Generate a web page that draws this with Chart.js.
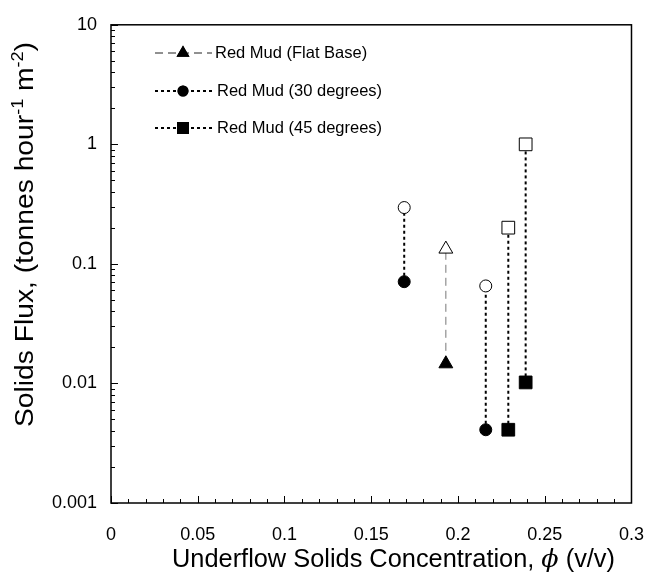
<!DOCTYPE html>
<html>
<head>
<meta charset="utf-8">
<script src="https://cdn.jsdelivr.net/npm/chart.js@4.4.1/dist/chart.umd.min.js"></script>
<style>
  body { margin: 0; background: #fff; }
</style>
</head>
<body>
<canvas id="graficoFlux" width="665" height="579"></canvas>
<script>
// data (underflow concentration vs solids flux)
const seriesNames = ['Red Mud (Flat Base)', 'Red Mud (30 degrees)', 'Red Mud (45 degrees)'];
const flatX = [0.193];
const flatLow = [0.0146];
const flatHigh = [0.133];
const deg30X = [0.169, 0.216];
const deg30Low = [0.071, 0.0041];
const deg30High = [0.296, 0.0654];
const deg45X = [0.229, 0.239];
const deg45Low = [0.0041, 0.0102];
const deg45High = [0.201, 1.0];
const xTicks = [0, 0.05, 0.1, 0.15, 0.2, 0.25, 0.3];
const yTicks = [0.001, 0.01, 0.1, 1, 10];

const FONT = '"Liberation Sans", Arial, sans-serif';

const styles = [
    { pointStyle: 'triangle', radius: 8, color: '#777', legendColor: '#222', width: 1, dash: [8, 5] },
    { pointStyle: 'circle', radius: 6, color: '#000', legendColor: '#000', width: 2, dash: [3, 3] },
    { pointStyle: 'rect', radius: 9, color: '#000', legendColor: '#000', width: 2, dash: [3, 3] }
];

function pairSets(xs, lows, highs, st, name) {
    return xs.map((x, i) => ({
        label: name,
        data: [{ x: x, y: lows[i] }, { x: x, y: highs[i] }],
        showLine: true,
        borderColor: st.color,
        borderWidth: st.width,
        borderDash: st.dash,
        pointStyle: st.pointStyle,
        pointRadius: st.radius,
        pointBorderColor: '#000',
        pointBorderWidth: 1,
        pointBackgroundColor: ['#000', '#fff']
    }));
}

const datasets = [].concat(
    pairSets(flatX, flatLow, flatHigh, styles[0], seriesNames[0]),
    pairSets(deg30X, deg30Low, deg30High, styles[1], seriesNames[1]),
    pairSets(deg45X, deg45Low, deg45High, styles[2], seriesNames[2])
);

// text runs drawn left to right; optional total width to fit
function drawRuns(ctx, runs, x, y, width) {
    let natural = 0;
    runs.forEach(r => { ctx.font = r.font; natural += ctx.measureText(r.text).width; });
    const k = width ? width / natural : 1;
    ctx.save();
    ctx.translate(x, y);
    ctx.scale(k, 1);
    let cx = 0;
    runs.forEach(r => {
        ctx.font = r.font;
        ctx.fillText(r.text, cx, r.dy || 0);
        cx += ctx.measureText(r.text).width;
    });
    ctx.restore();
}

// box, inward ticks, legend and axis titles
const decorPlugin = {
    id: 'decor',
    beforeDatasetsDraw(chart) {
        const ctx = chart.ctx;
        const a = chart.chartArea;
        const xs = chart.scales.x, ys = chart.scales.y;
        ctx.save();
        ctx.strokeStyle = '#000';
        ctx.lineWidth = 1.5;
        ctx.strokeRect(a.left, a.top, a.right - a.left, a.bottom - a.top);
        ctx.lineWidth = 1;
        ctx.beginPath();
        for (let i = 0; i < xTicks.length; i++) {
            const px = Math.round(xs.getPixelForValue(xTicks[i])) + 0.5;
            ctx.moveTo(px, a.bottom);
            ctx.lineTo(px, a.bottom - 7);
            if (i < xTicks.length - 1) {
                const step = (xTicks[i + 1] - xTicks[i]) / 5;
                for (let k = 1; k < 5; k++) {
                    const mx = Math.round(xs.getPixelForValue(xTicks[i] + step * k)) + 0.5;
                    ctx.moveTo(mx, a.bottom);
                    ctx.lineTo(mx, a.bottom - 4);
                }
            }
        }
        for (let i = 0; i < yTicks.length; i++) {
            const py = Math.round(ys.getPixelForValue(yTicks[i])) + 0.5;
            ctx.moveTo(a.left, py);
            ctx.lineTo(a.left + 7, py);
            if (i < yTicks.length - 1) {
                for (let k = 2; k < 10; k++) {
                    const my = Math.round(ys.getPixelForValue(yTicks[i] * k)) + 0.5;
                    ctx.moveTo(a.left, my);
                    ctx.lineTo(a.left + 4, my);
                }
            }
        }
        ctx.stroke();
        ctx.restore();
    },
    afterDraw(chart) {
        const ctx = chart.ctx;
        ctx.save();
        // legend
        const rows = [53, 91, 128];
        styles.forEach((st, i) => {
            const y = rows[i];
            ctx.strokeStyle = st.legendColor;
            ctx.lineWidth = st.width;
            ctx.setLineDash(st.dash);
            ctx.beginPath();
            ctx.moveTo(155, y);
            ctx.lineTo(212, y);
            ctx.stroke();
            ctx.setLineDash([]);
            Chart.helpers.drawPoint(ctx, {
                pointStyle: st.pointStyle, radius: st.radius - 0.5, rotation: 0, borderWidth: 0
            }, 183, y);
            ctx.fillStyle = '#000';
            ctx.fill();
            ctx.textBaseline = 'middle';
            ctx.textAlign = 'left';
            drawRuns(ctx, [{ text: seriesNames[i], font: '16.5px ' + FONT }], i === 0 ? 215 : 217, y);
        });
        ctx.fillStyle = '#000';
        ctx.textAlign = 'left';
        ctx.textBaseline = 'alphabetic';
        // y title, rotated, with raised exponents
        const big = '25px ' + FONT, small = '16px ' + FONT;
        ctx.save();
        ctx.translate(33, 427);
        ctx.rotate(-Math.PI / 2);
        drawRuns(ctx, [
            { text: 'Solids Flux, (tonnes hour', font: big },
            { text: '-1', font: small, dy: -10 },
            { text: ' m', font: big },
            { text: '-2', font: small, dy: -10 },
            { text: ')', font: big }
        ], 0, 0, 385);
        ctx.restore();
        // x title with italic phi
        drawRuns(ctx, [
            { text: 'Underflow Solids Concentration, ', font: big },
            { text: '\u03D5', font: 'italic 25px "DejaVu Serif", serif' },
            { text: ' (v/v)', font: big }
        ], 172, 567, 443);
        ctx.restore();
    }
};

new Chart(document.getElementById('graficoFlux').getContext('2d'), {
    type: 'scatter',
    data: { datasets: datasets },
    options: {
        responsive: false,
        animation: false,
        devicePixelRatio: 1,
        layout: { padding: { left: 0, top: 14, right: 15, bottom: 0 } },
        plugins: {
            legend: { display: false },
            tooltip: { enabled: false }
        },
        scales: {
            x: {
                type: 'linear',
                min: 0,
                max: 0.3,
                afterBuildTicks: s => { s.ticks = xTicks.map(v => ({ value: v })); },
                afterFit: s => { s.height = 76; },
                grid: { display: false, drawTicks: false },
                border: { display: false },
                ticks: {
                    autoSkip: false,
                    maxRotation: 0,
                    padding: 21,
                    color: '#000',
                    font: { family: FONT, size: 18 },
                    callback: v => String(v)
                }
            },
            y: {
                type: 'logarithmic',
                min: 0.001,
                max: 10,
                afterBuildTicks: s => { s.ticks = yTicks.map(v => ({ value: v })); },
                afterFit: s => { s.width = 111; },
                grid: { display: false, drawTicks: false },
                border: { display: false },
                ticks: {
                    autoSkip: false,
                    padding: 14,
                    color: '#000',
                    font: { family: FONT, size: 18 },
                    callback: v => String(v)
                }
            }
        }
    },
    plugins: [decorPlugin]
});
</script>
</body>
</html>
